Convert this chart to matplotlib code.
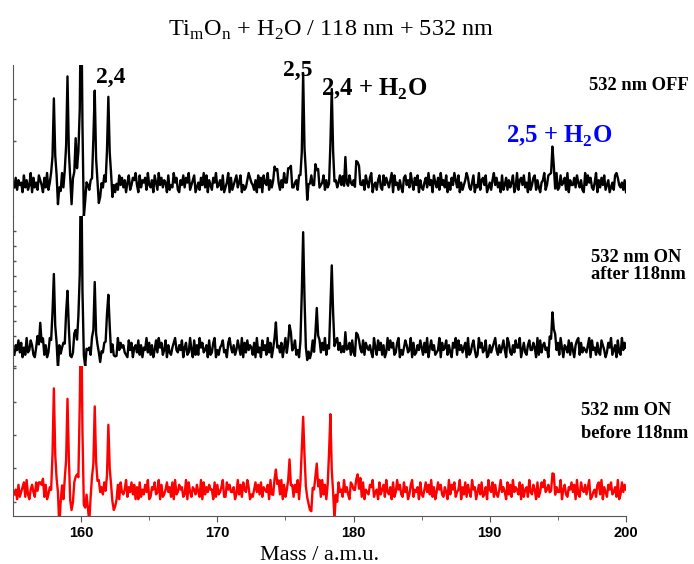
import numpy as np
import matplotlib.pyplot as plt

plt.rcParams['font.family'] = 'Liberation Serif'
plt.rcParams['mathtext.fontset'] = 'custom'
plt.rcParams['mathtext.rm'] = 'Liberation Serif'
plt.rcParams['mathtext.bf'] = 'Liberation Serif:bold'

# mass range of the recorded traces
mass_first = 155.1
mass_last = 200.0

# baseline noise in 0.1 amu steps (digit 4 = baseline)
noise_off = """
37264 51836 24917 35286 41739 25638 47152 93648 25173
64829 31574 26385 17946 38257 46193 52847 36158 24769
41836 57294 36185 29473 65182 43957 21648 37592 46813
52749 38164 27593 46281 35917 24683 58142 36975 42618
37185 49263 58174 26395 47182 35628 41937 26584 39172
45826 31794 26358 47192 38546 29173 46285 37914 52683
28475 36918 45263 17846 39527 48163 25739 46185 37294
63815 27496 38152 46973 25814 39267 48135 26947 35182
47263 58139 26748 35192 47826 31569 24873 56192 38457
29164 47385 36219 48573 25916 37482 46135 28974 35261
"""
noise_after = """
26483 71529 34862 15937 48261 39574 26183 57492 31648
45927 18364 52739 26814 37592 41863 29475 63218 47156
38261 54937 26148 39572 48163 25794 36481 57239 41826
29573 46182 37914 25683 41795 36248 52917 38465 27193
51846 29371 46825 37159 24683 58241 39672 45138 26957
37492 61835 28947 35162 47283 19564 38275 46319 52847
26139 48572 37914 25863 49172 36485 27391 58462 34917
45826 31759 28463 57192 36841 29573 48126 35794 26358
41973 26385 59147 32684 47519 28367 45182 36947 29516
53827 41689 27354 36918 45273 28641 37592 46183 29475
"""
noise_before = """
35172 46829 31574 28463 59271 36148 47925 81637 52946
28174 39562 47813 25946 38217 46593 27184 35926 48371
61825 37491 26583 49172 35846 28193 47562 39184 26537
42918 36475 51827 34692 28574 46139 37285 49613 25847
38265 47193 26548 39172 45836 27491 58263 34917 46528
29371 48625 37184 52946 31875 46329 28154 37692 45183
57294 36182 49573 28461 37925 46183 25847 39261 48573
26419 37582 45916 38274 29561 47382 36195 48273 25946
41837 29465 38172 56294 37518 24869 45731 38264 49157
32658 47193 28547 36912 45278 39164 27583 46291 38475
"""

# peaks (mass, height above baseline); negative = dips after strong peaks
off_mass = [158.0, 158.3, 159.0, 159.3, 159.6, 160.0, 160.2, 161.0, 161.3, 162.0, 162.4,
            174.3, 175.3, 176.3, 176.6, 177.3, 178.4, 179.4, 180.3, 194.6]
off_height = [0.77, -0.12, 0.99, -0.12, 0.42, 2.0, -0.45, 0.92, -0.3, 0.81, -0.12,
              0.22, 0.24, 1.0, -0.1, 0.22, 0.84, 0.16, 0.3, 0.36]

after_mass = [157.0, 158.0, 158.3, 159.0, 159.3, 159.6, 160.0, 160.2, 161.0, 161.3, 162.0, 162.4,
              174.3, 175.3, 176.3, 176.6, 177.3, 178.4, 179.4, 180.3, 194.6]
after_height = [0.2, 0.76, -0.12, 0.64, -0.12, 0.2, 2.0, -0.35, 0.56, -0.12, 0.6, -0.1,
                0.18, 0.2, 1.13, -0.1, 0.3, 0.87, 0.13, 0.13, 0.4]

before_mass = [157.0, 158.0, 158.4, 159.0, 159.3, 159.6, 160.0, 160.2, 160.6, 161.0, 162.0, 162.4,
               174.3, 175.3, 176.3, 176.8, 177.3, 178.3, 178.6, 180.3, 194.6]
before_height = [0.12, 0.94, -0.3, 0.86, -0.3, 0.2, 2.0, -0.45, -0.3, 0.88, 0.6, -0.3,
                 0.2, 0.23, 0.8, -0.3, 0.26, 0.73, -0.25, 0.2, 0.21]

baselines = [0.31, 0.16, 0.24]


def build_trace(noise_text, masses, heights, base):
    digits = np.array([int(c) for c in noise_text if c.isdigit()])
    y = base + (digits - 4) * 0.024
    x = np.linspace(mass_first, mass_last, len(digits))
    for m, h in zip(masses, heights):
        i = int(np.argmin(np.abs(x - m)))
        y[i] += h
        y[i - 1] += 0.4 * h
        y[i + 1] += 0.4 * h
        y[i - 2] += 0.1 * h
        y[i + 2] += 0.1 * h
    return x, y


traces = [
    build_trace(noise_off, off_mass, off_height, baselines[0]),
    build_trace(noise_after, after_mass, after_height, baselines[1]),
    build_trace(noise_before, before_mass, before_height, baselines[2]),
]
colors = ['black', 'black', 'red']
ytick_sets = [
    [0.33, 0.75, 1.17],
    list(np.arange(0, 1.5, 0.15)),
    [0.143, 0.477, 0.81, 1.143, 1.477],
]

fig = plt.figure(figsize=(6.94, 5.64), dpi=100)
W, H = 694, 564
panel_px = [(65, 216), (216, 366), (366, 516)]
axes = []
for k, (top, bot) in enumerate(panel_px):
    ax = fig.add_axes([13 / W, (H - bot) / H, 613 / W, (bot - top) / H])
    x, y = traces[k]
    ax.plot(x, y, color=colors[k], lw=1.7)
    ax.set_xlim(155, 200)
    ax.set_ylim(0, (bot - top) / 100)
    for s in ['top', 'right', 'bottom']:
        ax.spines[s].set_visible(False)
    ax.spines['left'].set_color('#555555')
    ax.set_yticks(ytick_sets[k])
    ax.tick_params(axis='y', direction='in', length=2.5, width=1, color='#555555', labelleft=False)
    ax.set_facecolor('none')
    axes.append(ax)

for ax in axes[:2]:
    ax.set_xticks([])

axb = axes[2]
axb.spines['bottom'].set_visible(True)
axb.spines['bottom'].set_color('#555555')
axb.set_xticks([160, 170, 180, 190, 200])
axb.set_xticks([165, 175, 185, 195], minor=True)
axb.tick_params(axis='x', which='major', direction='out', length=4, color='#555555')
axb.tick_params(axis='x', which='minor', direction='out', length=3, color='#555555')
for lab in axb.get_xticklabels():
    lab.set_fontfamily('Liberation Sans')
    lab.set_fontweight('bold')
    lab.set_fontsize(10.5)
axb.set_xlabel('Mass / a.m.u.', fontsize=16, labelpad=4)


def ftext(px, py, s, **kw):
    fig.text(px / W, 1 - py / H, s, va='baseline', ha='left', **kw)


ftext(168, 36, r'Ti$_\mathrm{m}$O$_\mathrm{n}$ + H$_\mathrm{2}$O / 118 nm + 532 nm', fontsize=17.5)
ftext(96, 83, '2,4', fontsize=17, fontweight='bold')
ftext(283, 76, '2,5', fontsize=17, fontweight='bold')
ftext(321, 96, r'2,4 + H$_\mathbf{2}$O', fontsize=17.8, fontweight='bold')
ftext(506, 143, r'2,5 + H$_\mathbf{2}$O', fontsize=17.8, fontweight='bold', color='blue')
ftext(589, 90, '532 nm OFF', fontsize=13.3, fontweight='bold')
ftext(591, 262, '532 nm ON', fontsize=13.3, fontweight='bold')
ftext(591, 279, 'after 118nm', fontsize=13.3, fontweight='bold')
ftext(581, 415, '532 nm ON', fontsize=13.3, fontweight='bold')
ftext(581, 438, 'before 118nm', fontsize=13.3, fontweight='bold')

fig.savefig('out.png', dpi=100)
